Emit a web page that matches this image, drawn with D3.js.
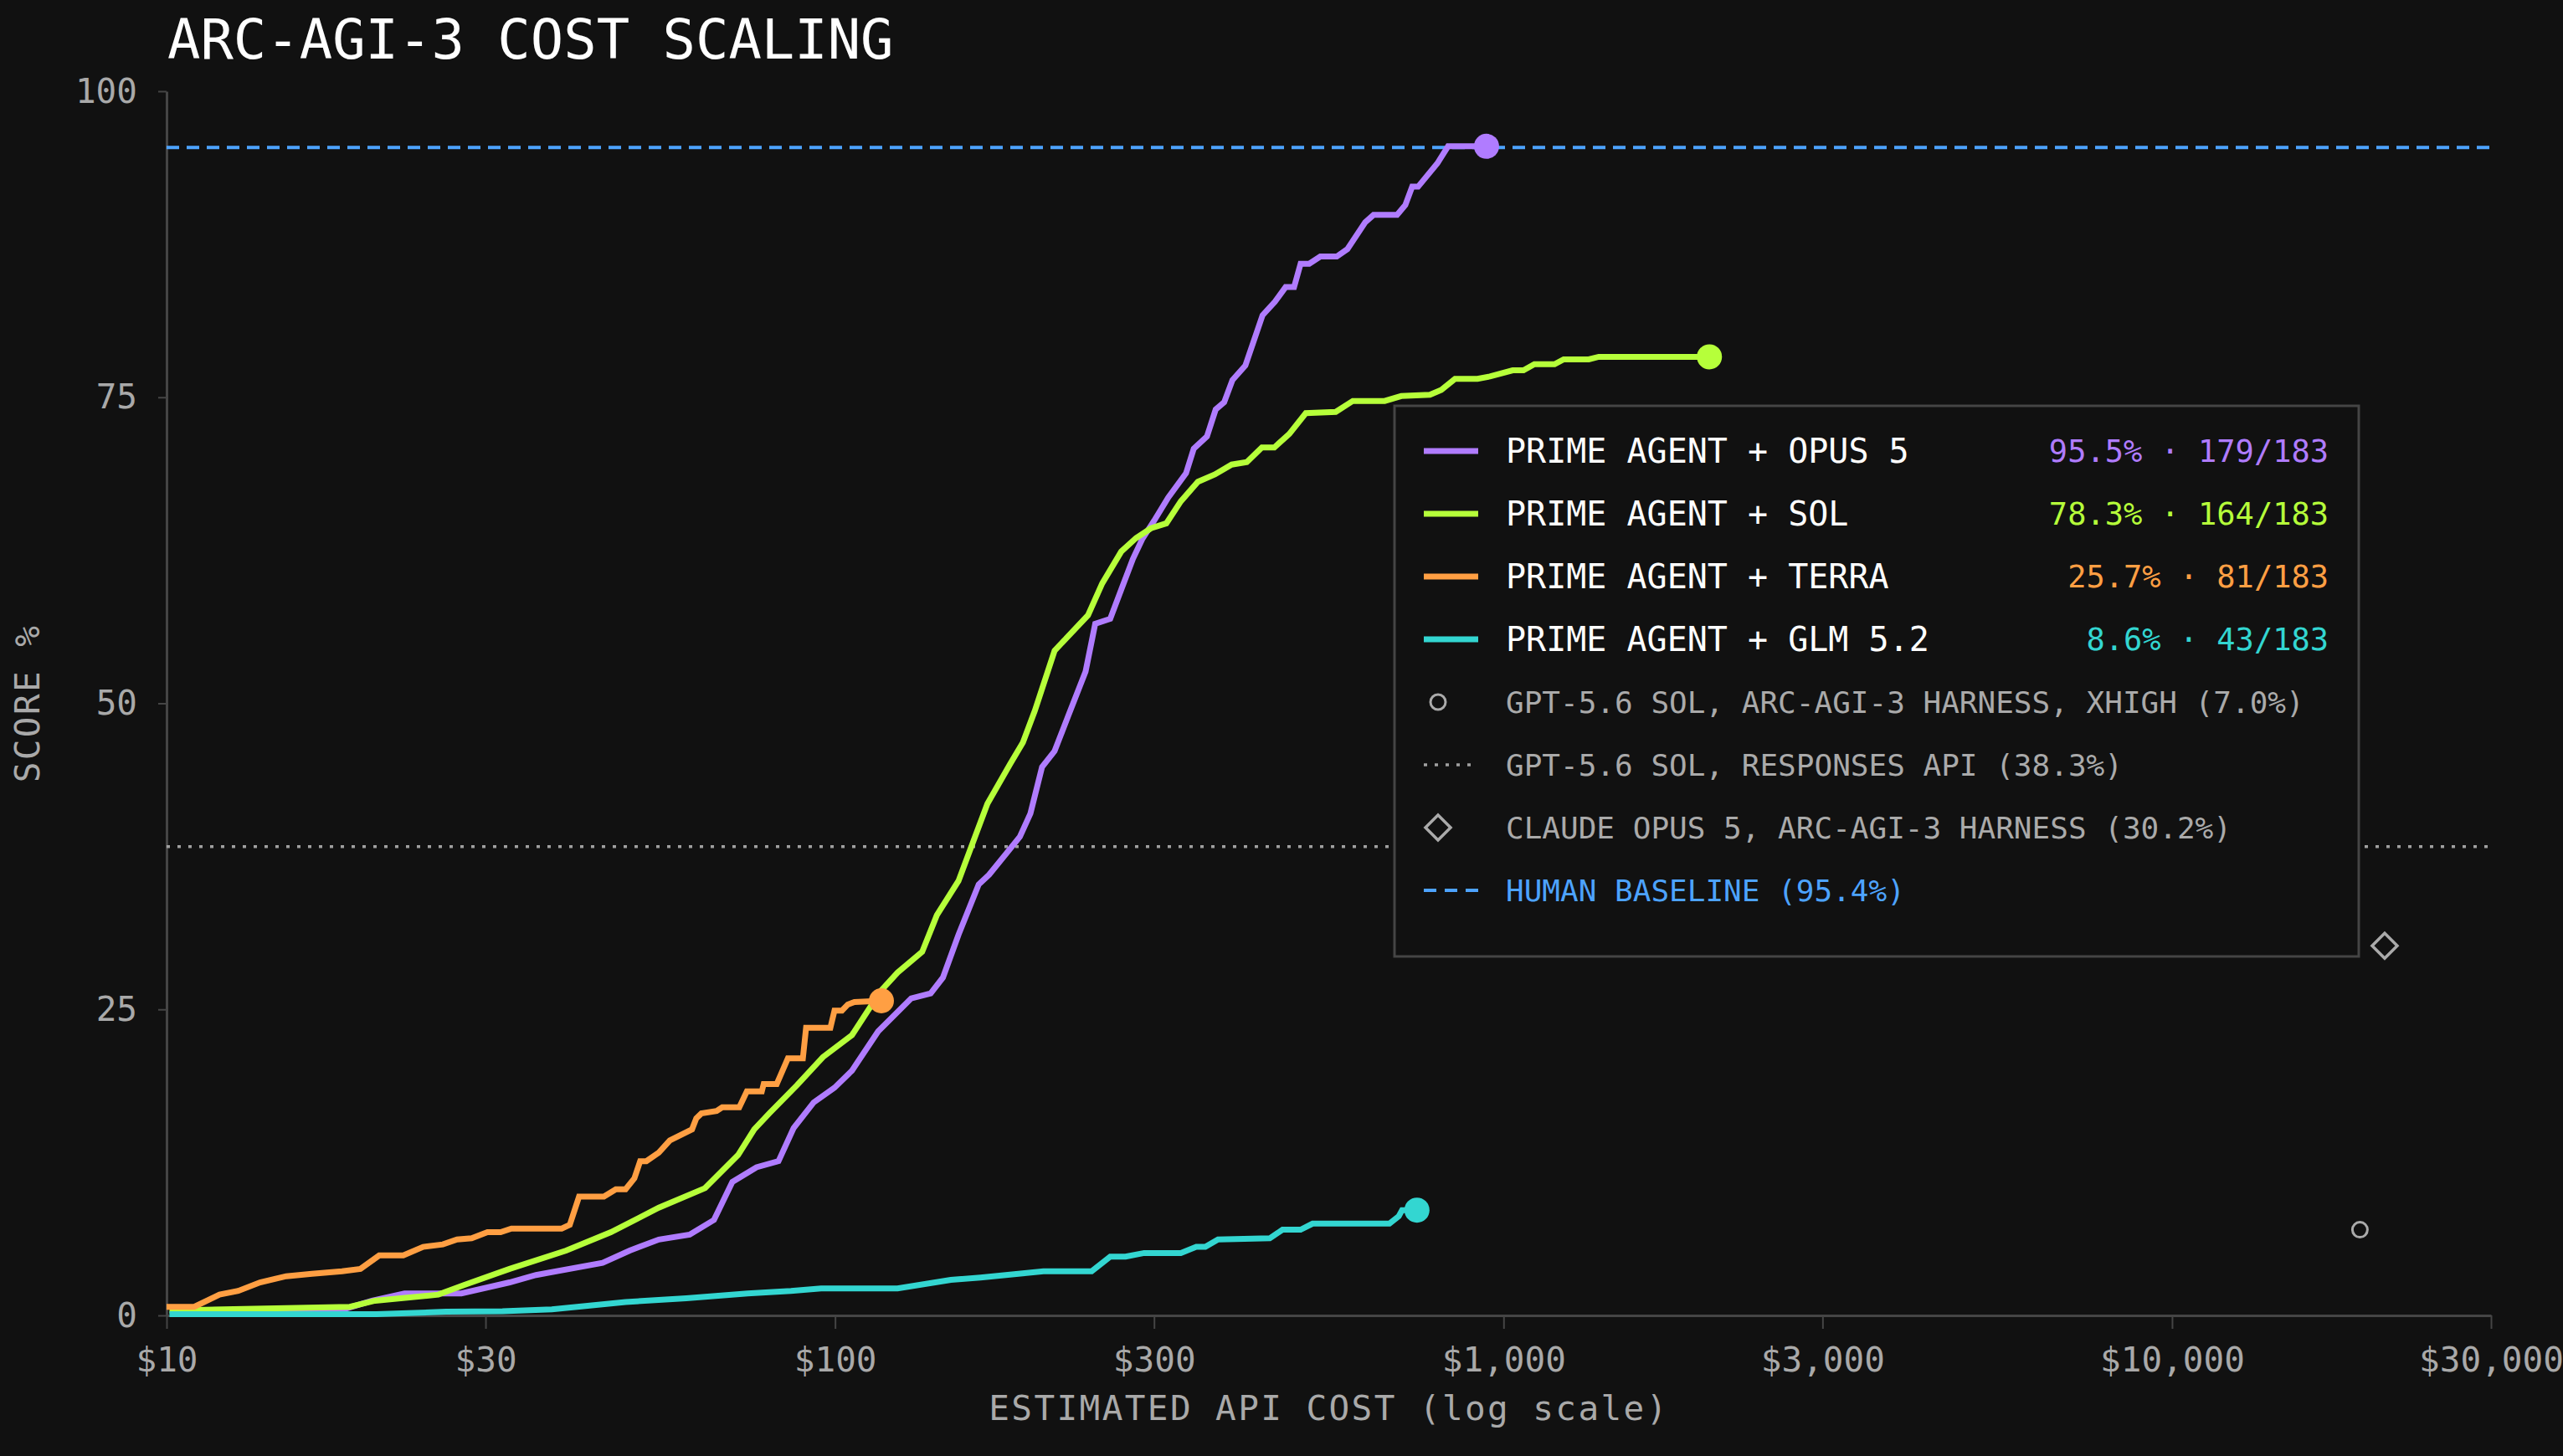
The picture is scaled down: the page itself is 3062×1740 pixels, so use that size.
<!DOCTYPE html>
<html>
<head>
<meta charset="utf-8">
<script src="https://cdn.jsdelivr.net/npm/d3@7"></script>
<style>
  html, body { margin: 0; padding: 0; background: #111111; }
  svg { display: block; }
  text { font-family: "DejaVu Sans Mono", monospace; }
</style>
</head>
<body>
<script>
const W = 3062;
const H = 1740;
const margin = { top: 109, right: 86, bottom: 168, left: 199 };

// series (cost in USD, score in %)
const opusCost = [10.2, 18.4, 20.3, 22.7, 27.6, 32.6, 35.7, 44.9, 49.3, 54.5, 60.6, 65.9, 70.2, 76.3, 82.3, 86.7, 92.9, 99.8, 106, 116, 130, 139, 145, 153, 164, 170, 189, 196, 204, 213, 223, 237, 245, 258, 268, 279, 288, 300, 315, 335, 344, 360, 371, 382, 393, 411, 436, 455, 472, 486, 497, 512, 532, 563, 584, 621, 639, 693, 713, 730, 745, 796, 826, 943];
const opusScore = [0.2, 0.5, 1.2, 1.8, 1.8, 2.7, 3.3, 4.3, 5.3, 6.2, 6.6, 7.8, 10.9, 12.1, 12.6, 15.3, 17.4, 18.6, 20.0, 23.2, 25.9, 26.3, 27.6, 31.1, 35.2, 36.0, 39.1, 41.0, 44.8, 46.1, 48.9, 52.6, 56.5, 56.9, 59.3, 61.8, 63.4, 64.9, 66.8, 68.8, 70.8, 71.8, 74.0, 74.6, 76.4, 77.6, 81.7, 82.8, 84.0, 84.0, 85.9, 85.9, 86.5, 86.5, 87.1, 89.3, 89.9, 89.9, 90.7, 92.2, 92.2, 94.1, 95.5, 95.5];

const solCost = [10.1, 18.8, 20.5, 25.5, 27.9, 32.6, 39.6, 46.2, 54.5, 63.9, 71.6, 75.7, 79.7, 87.7, 95.9, 106, 117, 124, 135, 142, 153, 169, 183, 191, 199, 213, 239, 251, 268, 282, 297, 313, 329, 349, 370, 392, 413, 435, 454, 478, 506, 561, 595, 664, 703, 776, 807, 846, 914, 954, 1032, 1071, 1112, 1192, 1230, 1341, 1388, 2032];
const solScore = [0.4, 0.7, 1.2, 1.7, 2.5, 3.8, 5.3, 6.8, 8.8, 10.4, 13.1, 15.2, 16.5, 18.8, 21.1, 22.9, 26.5, 28.0, 29.7, 32.7, 35.5, 41.8, 45.1, 46.8, 49.4, 54.3, 57.2, 59.8, 62.4, 63.5, 64.3, 64.7, 66.5, 68.1, 68.7, 69.5, 69.7, 70.9, 70.9, 72.0, 73.7, 73.8, 74.7, 74.7, 75.1, 75.2, 75.6, 76.5, 76.5, 76.7, 77.2, 77.2, 77.7, 77.7, 78.1, 78.1, 78.3, 78.3];

const terraCost = [10.0, 11.0, 12.0, 12.8, 13.8, 15.1, 16.5, 18.3, 19.5, 20.8, 22.6, 24.2, 25.9, 27.2, 28.6, 30.2, 31.6, 32.8, 39.0, 40.1, 41.4, 45.1, 47.0, 48.6, 50.1, 51.1, 52.2, 54.5, 56.6, 61.1, 62.0, 63.1, 66.5, 67.8, 71.9, 73.8, 77.7, 78.2, 81.8, 85.0, 89.5, 90.5, 98.4, 99.8, 102.4, 104.5, 106.9, 117.3];
const terraScore = [0.7, 0.7, 1.7, 2.0, 2.7, 3.2, 3.4, 3.6, 3.8, 4.9, 4.9, 5.6, 5.8, 6.2, 6.3, 6.8, 6.8, 7.1, 7.1, 7.4, 9.7, 9.7, 10.3, 10.3, 11.2, 12.6, 12.6, 13.3, 14.3, 15.2, 16.1, 16.5, 16.7, 17.0, 17.0, 18.3, 18.3, 18.9, 18.9, 21.0, 21.0, 23.5, 23.5, 24.9, 24.9, 25.4, 25.6, 25.7];

const glmCost = [10.1, 20.6, 26.2, 31.8, 37.7, 48.6, 59.9, 74.0, 85.9, 95.3, 124, 149, 165, 205, 242, 258, 272, 290, 329, 347, 358, 374, 447, 467, 497, 518, 675, 697, 705, 742];
const glmScore = [0.1, 0.1, 0.3, 0.35, 0.5, 1.1, 1.4, 1.8, 2.0, 2.2, 2.2, 2.9, 3.1, 3.6, 3.6, 4.8, 4.8, 5.1, 5.1, 5.6, 5.6, 6.2, 6.3, 7.0, 7.0, 7.5, 7.5, 8.1, 8.6, 8.6];

// single-point references
const gptHarness = { cost: 19100, score: 7.0 };
const claudeHarness = { cost: 20800, score: 30.2 };
const gptResponses = 38.3;
const humanBaseline = 95.4;

const xTicks = [10, 30, 100, 300, 1000, 3000, 10000, 30000];
const yTicks = [0, 25, 50, 75, 100];

const seriesNames = ['PRIME AGENT + OPUS 5', 'PRIME AGENT + SOL', 'PRIME AGENT + TERRA', 'PRIME AGENT + GLM 5.2'];
const seriesStats = ['95.5% · 179/183', '78.3% · 164/183', '25.7% · 81/183', '8.6% · 43/183'];
const seriesColors = ['#b07cff', '#b6ff3a', '#ff9f43', '#33d6d1'];

const series = [
  d3.zip(opusCost, opusScore),
  d3.zip(solCost, solScore),
  d3.zip(terraCost, terraScore),
  d3.zip(glmCost, glmScore)
];

const svg = d3.select('body')
  .append('svg')
  .attr('width', W)
  .attr('height', H);

svg.append('rect').attr('width', W).attr('height', H).attr('fill', '#111111');

const x = d3.scaleLog().domain([10, 30000]).range([margin.left, W - margin.right]);
const y = d3.scaleLinear().domain([0, 100]).range([H - margin.bottom, margin.top]);

// title
svg.append('text')
  .attr('x', 200)
  .attr('y', 70)
  .attr('fill', '#ffffff')
  .style('font-size', '65.5px')
  .text('ARC-AGI-3 COST SCALING');

// axes
const xAxis = svg.append('g')
  .attr('transform', `translate(0,${H - margin.bottom})`)
  .call(d3.axisBottom(x)
    .tickValues(xTicks)
    .tickFormat(d => '$' + d3.format(',')(d))
    .tickSize(16)
    .tickPadding(22)
    .tickSizeOuter(0));

const yAxis = svg.append('g')
  .attr('transform', `translate(${margin.left},0)`)
  .call(d3.axisLeft(y)
    .tickValues(yTicks)
    .tickSize(10)
    .tickPadding(25)
    .tickSizeOuter(0));

[xAxis, yAxis].forEach(g => {
  g.select('.domain').attr('stroke', '#454545').attr('stroke-width', 3);
  g.selectAll('.tick line').attr('stroke', '#454545').attr('stroke-width', 2);
  g.selectAll('.tick text')
    .attr('fill', '#a9a9a9')
    .style('font-size', '41px')
    .style('font-family', '"DejaVu Sans Mono", monospace');
});

svg.append('text')
  .attr('x', (margin.left + W - margin.right) / 2)
  .attr('y', 1697)
  .attr('text-anchor', 'middle')
  .attr('fill', '#a9a9a9')
  .style('font-size', '41px')
  .style('letter-spacing', '2.4px')
  .text('ESTIMATED API COST (log scale)');

svg.append('text')
  .attr('transform', `translate(47,${(margin.top + H - margin.bottom) / 2}) rotate(-90)`)
  .attr('text-anchor', 'middle')
  .attr('fill', '#a9a9a9')
  .style('font-size', '41px')
  .style('letter-spacing', '2.4px')
  .text('SCORE %');

// reference lines
svg.append('line')
  .attr('x1', x(10)).attr('x2', x(30000))
  .attr('y1', y(gptResponses)).attr('y2', y(gptResponses))
  .attr('stroke', '#a0a0a0')
  .attr('stroke-width', 3.5)
  .attr('stroke-dasharray', '4,9');

svg.append('line')
  .attr('x1', x(10)).attr('x2', x(30000))
  .attr('y1', y(humanBaseline)).attr('y2', y(humanBaseline))
  .attr('stroke', '#4da3ff')
  .attr('stroke-width', 4)
  .attr('stroke-dasharray', '15,9');

// series lines
const line = d3.line()
  .x(d => x(d[0]))
  .y(d => y(d[1]));

series.forEach((data, i) => {
  svg.append('path')
    .datum(data)
    .attr('d', line)
    .attr('fill', 'none')
    .attr('stroke', seriesColors[i])
    .attr('stroke-width', 7)
    .attr('stroke-linejoin', 'miter');

  const last = data[data.length - 1];
  svg.append('circle')
    .attr('cx', x(last[0]))
    .attr('cy', y(last[1]))
    .attr('r', 15)
    .attr('fill', seriesColors[i]);
});

// single runs
svg.append('circle')
  .attr('cx', x(gptHarness.cost))
  .attr('cy', y(gptHarness.score))
  .attr('r', 9)
  .attr('fill', 'none')
  .attr('stroke', '#aaaaaa')
  .attr('stroke-width', 3);

svg.append('path')
  .attr('d', d3.symbol().type(d3.symbolSquare).size(450))
  .attr('transform', `translate(${x(claudeHarness.cost)},${y(claudeHarness.score)}) rotate(45)`)
  .attr('fill', 'none')
  .attr('stroke', '#aaaaaa')
  .attr('stroke-width', 3.5);

// legend
const legend = svg.append('g');
legend.append('rect')
  .attr('x', 1666).attr('y', 485)
  .attr('width', 1152).attr('height', 658)
  .attr('fill', '#111111')
  .attr('stroke', '#454545')
  .attr('stroke-width', 3);

const rowY = i => 539 + i * 75;
const swX0 = 1701, swX1 = 1766, textX = 1799, statX = 2782;

seriesNames.forEach((name, i) => {
  legend.append('line')
    .attr('x1', swX0).attr('x2', swX1)
    .attr('y1', rowY(i)).attr('y2', rowY(i))
    .attr('stroke', seriesColors[i])
    .attr('stroke-width', 7);
  legend.append('text')
    .attr('x', textX).attr('y', rowY(i)).attr('dy', '0.36em')
    .attr('fill', '#ffffff')
    .style('font-size', '40px')
    .text(name);
  legend.append('text')
    .attr('x', statX).attr('y', rowY(i)).attr('dy', '0.36em')
    .attr('text-anchor', 'end')
    .attr('fill', seriesColors[i])
    .style('font-size', '37px')
    .text(seriesStats[i]);
});

const extraLabels = [
  'GPT-5.6 SOL, ARC-AGI-3 HARNESS, XHIGH (7.0%)',
  'GPT-5.6 SOL, RESPONSES API (38.3%)',
  'CLAUDE OPUS 5, ARC-AGI-3 HARNESS (30.2%)',
  'HUMAN BASELINE (95.4%)'
];
const extraColors = ['#aaaaaa', '#aaaaaa', '#aaaaaa', '#4da3ff'];

legend.append('circle')
  .attr('cx', 1718).attr('cy', rowY(4))
  .attr('r', 9)
  .attr('fill', 'none')
  .attr('stroke', '#aaaaaa')
  .attr('stroke-width', 3);

legend.append('line')
  .attr('x1', swX0).attr('x2', swX1 - 4)
  .attr('y1', rowY(5)).attr('y2', rowY(5))
  .attr('stroke', '#a0a0a0')
  .attr('stroke-width', 3.5)
  .attr('stroke-dasharray', '4,9');

legend.append('path')
  .attr('d', d3.symbol().type(d3.symbolSquare).size(450))
  .attr('transform', `translate(1718,${rowY(6)}) rotate(45)`)
  .attr('fill', 'none')
  .attr('stroke', '#aaaaaa')
  .attr('stroke-width', 3.5);

legend.append('line')
  .attr('x1', swX0).attr('x2', swX1)
  .attr('y1', rowY(7)).attr('y2', rowY(7))
  .attr('stroke', '#4da3ff')
  .attr('stroke-width', 4)
  .attr('stroke-dasharray', '15,10');

extraLabels.forEach((label, j) => {
  legend.append('text')
    .attr('x', textX).attr('y', rowY(4 + j)).attr('dy', '0.36em')
    .attr('fill', extraColors[j])
    .style('font-size', '36px')
    .text(label);
});
</script>
</body>
</html>
